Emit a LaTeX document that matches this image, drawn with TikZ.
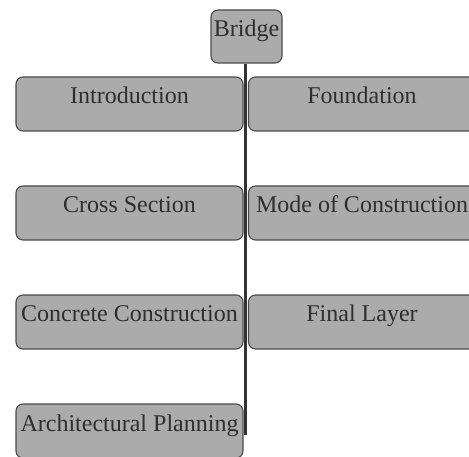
\documentclass[tikz,border=0pt]{standalone}
\usepackage{fontspec}
\setmainfont{Liberation Serif}
\usetikzlibrary{positioning}
\definecolor{cfill}{HTML}{ABABAB}
\definecolor{cedge}{HTML}{4A4A4A}
\definecolor{ctext}{HTML}{2E2E2E}
\definecolor{cspine}{HTML}{333333}
\tikzset{
  every picture/.style={x=1pt, y=-1pt},
  topic/.style={draw=cedge, fill=cfill, line width=1.1pt, rounded corners=7pt,
    text=ctext, font=\fontsize{24}{28}\selectfont, inner sep=0pt,
    minimum width=227pt, text height=27pt, text depth=27pt},
  root/.style={topic, minimum width=71pt, text height=26.5pt, text depth=26.5pt},
  spine/.style={draw=cspine, line width=3pt},
}
\begin{document}
\begin{tikzpicture}
  \useasboundingbox (0,0) rectangle (469,457);
  \clip (0,0) rectangle (469,457);

  % title
  \node[root] (bridge) at (246.5,36.5) {Bridge};

  % left column
  \node[topic] (intro)  at (129.5,104) {Introduction};
  \node[topic] (cross)  at (129.5,213) {Cross Section};
  \node[topic] (conc)   at (129.5,322) {Concrete Construction};
  \node[topic] (arch)   at (129.5,431) {Architectural Planning};

  % right column
  \node[topic] (found)  at (362,104) {Foundation};
  \node[topic] (mode)   at (362,213) {Mode of Construction};
  \node[topic] (final)  at (362,322) {Final Layer};

  % trunk, over the boxes
  \coordinate (tail) at (245,435);
  \draw[spine] (bridge.south -| tail) -- (tail);
\end{tikzpicture}
\end{document}
